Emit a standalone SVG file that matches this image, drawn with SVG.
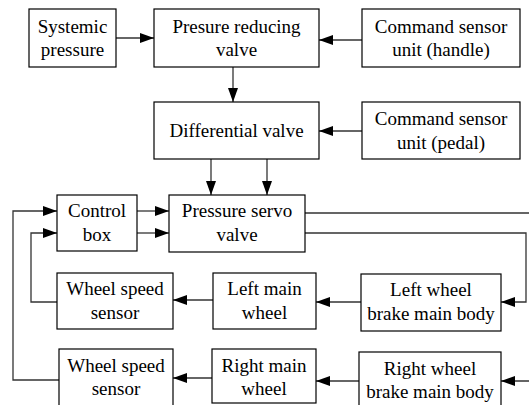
<svg xmlns="http://www.w3.org/2000/svg" width="529" height="405" viewBox="0 0 529 405">
  <style>
    .box rect { fill: #fff; stroke: #000; stroke-width: 1.2; }
    .box text { font-family: "Liberation Serif", "Times New Roman", serif; font-size: 19px; fill: #000; text-anchor: middle; }
    .wire { fill: none; stroke: #333; stroke-width: 1.3; }
  </style>
  <defs>
    <marker id="arrow" viewBox="0 0 14 10" refX="14" refY="5" markerWidth="14" markerHeight="10" markerUnits="userSpaceOnUse" orient="auto">
      <path d="M0,0 L14,5 L0,10 z" fill="#000"/>
    </marker>
  </defs>
  <rect x="0" y="0" width="529" height="405" fill="#fff"/>

  <g id="connectors">
    <path class="wire" d="M116,38 H154" marker-end="url(#arrow)"/>
    <path class="wire" d="M362,40 H319" marker-end="url(#arrow)"/>
    <path class="wire" d="M233,67 V102" marker-end="url(#arrow)"/>
    <path class="wire" d="M362,131 H319" marker-end="url(#arrow)"/>
    <path class="wire" d="M211,159 V195" marker-end="url(#arrow)"/>
    <path class="wire" d="M267,159 V195" marker-end="url(#arrow)"/>
    <path class="wire" d="M137,211 H169" marker-end="url(#arrow)"/>
    <path class="wire" d="M137,233 H169" marker-end="url(#arrow)"/>
    <!-- servo outputs: right wheel via the far edge, left wheel via the inner loop -->
    <path class="wire" d="M305,213 H532 V381 H501" marker-end="url(#arrow)"/>
    <path class="wire" d="M305,233 H526 V302 H501" marker-end="url(#arrow)"/>
    <path class="wire" d="M361,302 H316" marker-end="url(#arrow)"/>
    <path class="wire" d="M213,300 H173" marker-end="url(#arrow)"/>
    <path class="wire" d="M57,302 H31 V233 H57" marker-end="url(#arrow)"/>
    <path class="wire" d="M359,381 H316" marker-end="url(#arrow)"/>
    <path class="wire" d="M212,378 H173" marker-end="url(#arrow)"/>
    <path class="wire" d="M59,380 H13 V211 H57" marker-end="url(#arrow)"/>
  </g>

  <g id="systemic-pressure" class="box">
    <rect x="29" y="9" width="87" height="58"/>
    <text x="72.5" y="33">Systemic</text>
    <text x="72.5" y="56">pressure</text>
  </g>
  <g id="pressure-reducing-valve" class="box">
    <rect x="154" y="9" width="165" height="58"/>
    <text x="236.5" y="33">Presure reducing</text>
    <text x="236.5" y="56">valve</text>
  </g>
  <g id="command-handle" class="box">
    <rect x="362" y="9" width="158" height="58"/>
    <text x="441" y="33">Command sensor</text>
    <text x="441" y="56">unit (handle)</text>
  </g>
  <g id="differential-valve" class="box">
    <rect x="154" y="102" width="165" height="57"/>
    <text x="236.5" y="137">Differential valve</text>
  </g>
  <g id="command-pedal" class="box">
    <rect x="362" y="102" width="158" height="57"/>
    <text x="441" y="125">Command sensor</text>
    <text x="441" y="149">unit (pedal)</text>
  </g>
  <g id="control-box" class="box">
    <rect x="57" y="195" width="80" height="56"/>
    <text x="97" y="217">Control</text>
    <text x="97" y="241">box</text>
  </g>
  <g id="pressure-servo-valve" class="box">
    <rect x="169" y="195" width="136" height="57"/>
    <text x="237" y="217">Pressure servo</text>
    <text x="237" y="241">valve</text>
  </g>
  <g id="wheel-speed-sensor-left" class="box">
    <rect x="57" y="273" width="116" height="56"/>
    <text x="115" y="295">Wheel speed</text>
    <text x="115" y="319">sensor</text>
  </g>
  <g id="left-main-wheel" class="box">
    <rect x="213" y="273" width="103" height="56"/>
    <text x="264.5" y="295">Left main</text>
    <text x="264.5" y="319">wheel</text>
  </g>
  <g id="left-wheel-brake" class="box">
    <rect x="361" y="274" width="140" height="57"/>
    <text x="431" y="296">Left wheel</text>
    <text x="431" y="320">brake main body</text>
  </g>
  <g id="wheel-speed-sensor-right" class="box">
    <rect x="59" y="349" width="114" height="70"/>
    <text x="116" y="372">Wheel speed</text>
    <text x="116" y="395">sensor</text>
  </g>
  <g id="right-main-wheel" class="box">
    <rect x="212" y="349" width="104" height="54"/>
    <text x="264" y="372">Right main</text>
    <text x="264" y="395">wheel</text>
  </g>
  <g id="right-wheel-brake" class="box">
    <rect x="359" y="352" width="142" height="70"/>
    <text x="430" y="375">Right wheel</text>
    <text x="430" y="398">brake main body</text>
  </g>
</svg>
